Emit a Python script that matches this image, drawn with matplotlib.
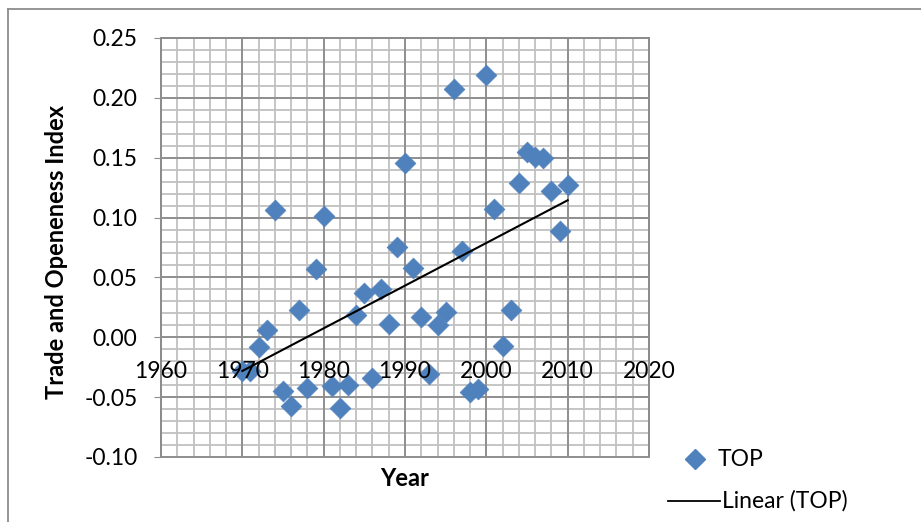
import numpy as np
import matplotlib.pyplot as plt
from matplotlib.lines import Line2D
from matplotlib.ticker import MultipleLocator, FormatStrFormatter

plt.rcParams['font.family'] = ['Lato', 'DejaVu Sans']

# ------------------------------------------
# data: trade and openness index by year
# ------------------------------------------
years = np.arange(1970, 2011)
top = [-0.028, -0.028, -0.008, 0.006, 0.106, -0.045, -0.057, 0.023, -0.042, 0.057,
       0.101, -0.041, -0.059, -0.040, 0.019, 0.037, -0.034, 0.040, 0.011, 0.075,
       0.146, 0.058, 0.017, -0.031, 0.010, 0.021, 0.207, 0.072, -0.046, -0.043,
       0.219, 0.107, -0.007, 0.023, 0.129, 0.155, 0.151, 0.150, 0.122, 0.089,
       0.127]

x_ticks = [1960, 1970, 1980, 1990, 2000, 2010, 2020]
y_ticks = [-0.10, -0.05, 0.00, 0.05, 0.10, 0.15, 0.20, 0.25]

BLUE = '#4f81bd'
MAJOR = '#8c8c8c'
MINOR = '#c0c0c0'
FS = 16.5

W, H = 921, 522


def fx(px):
    return px / W


def fy(py):
    return 1 - py / H


fig = plt.figure(figsize=(W / 100, H / 100), dpi=100)
ax = fig.add_axes([fx(161), fy(457), (649 - 161) / W, (457 - 38) / H])

x0, x1 = x_ticks[0], x_ticks[-1]
y0, y1 = y_ticks[0], y_ticks[-1]

# grid drawn by hand so the tick labels can stay above the markers
minor_x = np.arange(x0, x1 + 1, 2)
minor_y = np.linspace(y0, y1, 36)
ax.vlines(minor_x, y0, y1, color=MINOR, lw=1.3, zorder=0.2, clip_on=False)
ax.hlines(minor_y, x0, x1, color=MINOR, lw=1.3, zorder=0.2, clip_on=False)
ax.vlines(x_ticks, y0, y1, color=MAJOR, lw=1.3, zorder=0.3, clip_on=False)
ax.hlines(y_ticks, x0, x1, color=MAJOR, lw=1.3, zorder=0.3, clip_on=False)

# linear trend
coef = np.polyfit(years, top, 1)
trend = np.polyval(coef, years)

ax.scatter(years, top, marker='D', s=112, color=BLUE, edgecolors=BLUE,
           linewidths=0.5, zorder=1.0)
ax.plot(years, trend, color='black', lw=1.5, zorder=1.1)

ax.set_xlim(x0, x1)
ax.set_ylim(y0, y1)
ax.set_xticks(x_ticks)
ax.set_yticks(y_ticks)
ax.yaxis.set_major_formatter(FormatStrFormatter('%.2f'))

for side in ['top', 'right', 'left', 'bottom']:
    ax.spines[side].set_color(MAJOR)
    ax.spines[side].set_linewidth(1.3)
# x axis crosses at y = 0
ax.spines['bottom'].set_position(('data', 0))
ax.spines['bottom'].set_visible(False)

ax.tick_params(axis='x', which='both', length=0, labelsize=FS, pad=17)
ax.tick_params(axis='y', which='major', length=5, color=MAJOR, labelsize=FS, pad=12)

# axis titles
fig.text(fx(57), fy(252), 'Trade and Openeness Index', rotation=90,
         ha='center', va='center', fontsize=17, fontweight='bold')
fig.text(fx(405), fy(479), 'Year', ha='center', va='center',
         fontsize=17, fontweight='bold')

# legend entries
fig.add_artist(Line2D([fx(695)], [fy(459)], marker='D', ls='none', color=BLUE,
                      markersize=10.5, transform=fig.transFigure))
fig.text(fx(718), fy(459), 'TOP', ha='left', va='center', fontsize=FS)
fig.add_artist(Line2D([fx(668), fx(720)], [fy(501), fy(501)], color='black',
                      lw=1.3, transform=fig.transFigure))
fig.text(fx(722), fy(501), 'Linear (TOP)', ha='left', va='center', fontsize=FS)

# chart border
fig.add_artist(Line2D([fx(8), fx(8)], [0, fy(9)], color=MAJOR, lw=1.3,
                      transform=fig.transFigure))
fig.add_artist(Line2D([fx(8), 1], [fy(9), fy(9)], color=MAJOR, lw=1.3,
                      transform=fig.transFigure))

fig.savefig('out.png', dpi=100)
